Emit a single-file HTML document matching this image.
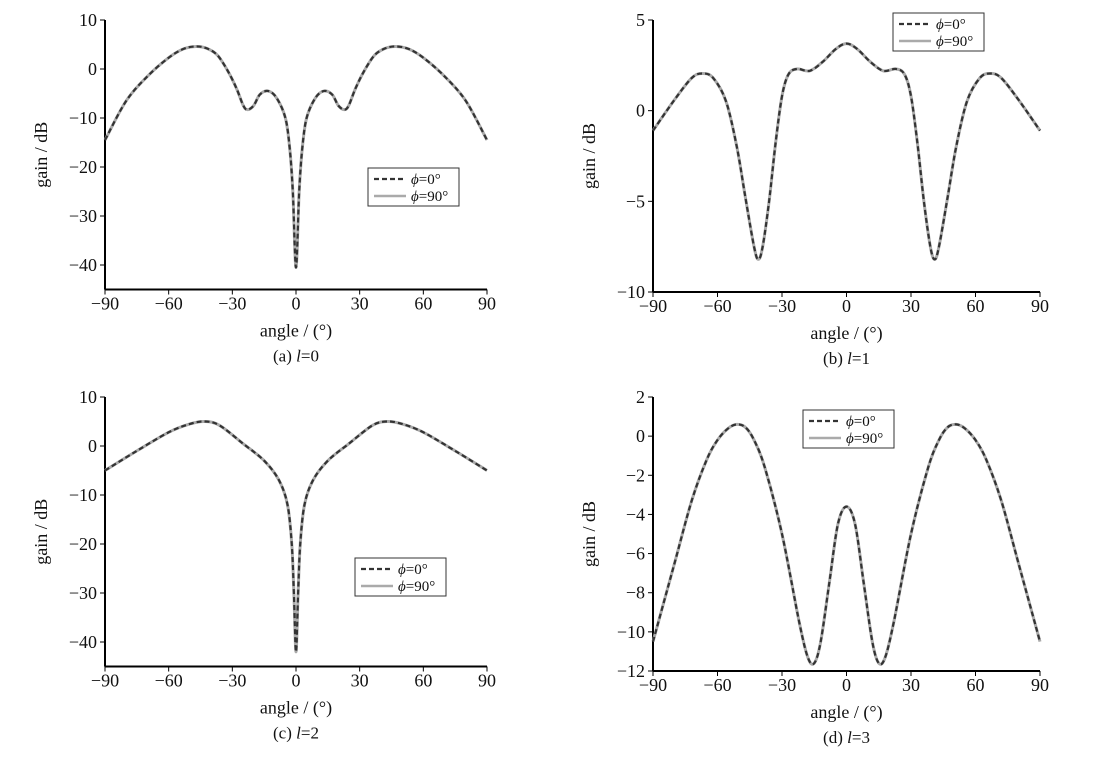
<!DOCTYPE html>
<html><head><meta charset="utf-8"><style>
body{margin:0;background:#fff}
svg text{font-family:"Liberation Serif",serif;fill:#111}
</style></head><body>
<svg id="s" width="1093" height="763" xmlns="http://www.w3.org/2000/svg"></svg>
<script>
const S=document.getElementById('s');let h='';
function sym(p){const r=p.slice();for(let i=p.length-2;i>=0;i--)r.push([-p[i][0],p[i][1]]);return r;}
function panel(o){
 const {x0,x1,yTop,vTop,yBot,vBot,ticks,min,leg,cap,pts}=o;
 const X=a=>x0+(a+90)/180*(x1-x0), Y=v=>yTop+(vTop-v)/(vTop-vBot)*(yBot-yTop);
 const yAxB=Y(min);
 h+=`<line x1="${x0}" y1="${Y(vTop)}" x2="${x0}" y2="${yAxB}" stroke="#000" stroke-width="2"/>`;
 h+=`<line x1="${x0}" y1="${yAxB}" x2="${x1}" y2="${yAxB}" stroke="#000" stroke-width="2"/>`;
 ticks.forEach(t=>{h+=`<line x1="${x0}" y1="${Y(t)}" x2="${x0-5}" y2="${Y(t)}" stroke="#000"/>`;
  h+=`<text x="${x0-8}" y="${Y(t)+6}" font-size="18" text-anchor="end">${t<0?'\u2212'+(-t):t}</text>`;});
 for(let a=-90;a<=90;a+=30){h+=`<line x1="${X(a)}" y1="${yAxB}" x2="${X(a)}" y2="${yAxB+5}" stroke="#000"/>`;
  h+=`<text x="${X(a)}" y="${yAxB+20}" font-size="18" text-anchor="middle">${a<0?'\u2212'+(-a):a}</text>`;}
 const xm=(x0+x1)/2;
 h+=`<text x="${xm}" y="${yAxB+47}" font-size="18" text-anchor="middle">angle / (°)</text>`;
 h+=`<text x="${xm}" y="${yAxB+72}" font-size="17" text-anchor="middle">${cap}</text>`;
 const ym=(Y(vTop)+yAxB)/2;
 h+=`<text transform="translate(${x0-58},${ym}) rotate(-90)" font-size="18" text-anchor="middle">gain / dB</text>`;
 const P=sym(pts).map(p=>[X(p[0]),Y(p[1])]);
 let d=`M${P[0][0]},${P[0][1]}`;
 for(let i=0;i<P.length-1;i++){const p0=P[i-1]||P[i],p1=P[i],p2=P[i+1],p3=P[i+2]||p2;
  d+=`C${p1[0]+(p2[0]-p0[0])/6},${p1[1]+(p2[1]-p0[1])/6} ${p2[0]-(p3[0]-p1[0])/6},${p2[1]-(p3[1]-p1[1])/6} ${p2[0]},${p2[1]}`;}
 h+=`<path d="${d}" fill="none" stroke="#aaa" stroke-width="3"/>`;
 h+=`<path d="${d}" fill="none" stroke="#333" stroke-width="2.2" stroke-dasharray="5,3"/>`;
 const [lx,ly]=leg;
 h+=`<rect x="${lx}" y="${ly}" width="91" height="38" fill="#fff" stroke="#333"/>`;
 h+=`<line x1="${lx+6}" y1="${ly+11}" x2="${lx+38}" y2="${ly+11}" stroke="#333" stroke-width="2.2" stroke-dasharray="5,3"/>`;
 h+=`<line x1="${lx+6}" y1="${ly+28}" x2="${lx+38}" y2="${ly+28}" stroke="#aaa" stroke-width="2.5"/>`;
 h+=`<text x="${lx+43}" y="${ly+16}" font-size="15"><tspan font-style="italic">ϕ</tspan>=0°</text>`;
 h+=`<text x="${lx+43}" y="${ly+33}" font-size="15"><tspan font-style="italic">ϕ</tspan>=90°</text>`;
}
panel({x0:105,x1:487,yTop:20,vTop:10,yBot:265,vBot:-40,min:-45,ticks:[10,0,-10,-20,-30,-40],leg:[368,168],cap:'(a) <tspan font-style="italic">l</tspan>=0',
 pts:[[-90,-14.5],[-80,-6.5],[-70,-1.5],[-60,2.3],[-53,4.1],[-47,4.6],[-42,4.2],[-37,2.8],[-32,-0.5],[-28,-4],[-25,-7.3],[-23,-8.3],[-20,-7.5],[-17,-5.2],[-13,-4.5],[-9,-6],[-5,-10],[-3,-16],[-1.5,-25],[0,-40.5]]});
panel({x0:653,x1:1040,yTop:20,vTop:5,yBot:292,vBot:-10,min:-10,ticks:[5,0,-5,-10],leg:[893,13],cap:'(b) <tspan font-style="italic">l</tspan>=1',
 pts:[[-90,-1.1],[-80,0.6],[-72,1.8],[-67,2.05],[-62,1.8],[-56,0.5],[-51,-2],[-47,-4.8],[-43,-7.5],[-41,-8.2],[-39,-7.5],[-36,-5],[-33,-1.8],[-30,0.8],[-27,2.0],[-23,2.3],[-17,2.2],[-11,2.7],[-5,3.4],[0,3.7]]});
panel({x0:105,x1:487,yTop:397,vTop:10,yBot:642,vBot:-40,min:-45,ticks:[10,0,-10,-20,-30,-40],leg:[355,558],cap:'(c) <tspan font-style="italic">l</tspan>=2',
 pts:[[-90,-5],[-75,-1],[-60,2.8],[-50,4.5],[-43,5],[-36,4.2],[-25,0.5],[-15,-3],[-8,-7],[-4,-12],[-2,-20],[-1,-30],[0,-42]]});
panel({x0:653,x1:1040,yTop:397,vTop:2,yBot:671,vBot:-12,min:-12,ticks:[2,0,-2,-4,-6,-8,-10,-12],leg:[803,410],cap:'(d) <tspan font-style="italic">l</tspan>=3',
 pts:[[-90,-10.5],[-80,-6.5],[-72,-3.3],[-65,-1.2],[-60,-0.2],[-55,0.4],[-51,0.6],[-47,0.45],[-43,-0.2],[-38,-1.6],[-30,-5],[-22,-9.5],[-18,-11.3],[-15,-11.6],[-12,-10.5],[-8,-7.5],[-4,-4.5],[0,-3.6]]});
S.innerHTML=h;
</script>
</body></html>
